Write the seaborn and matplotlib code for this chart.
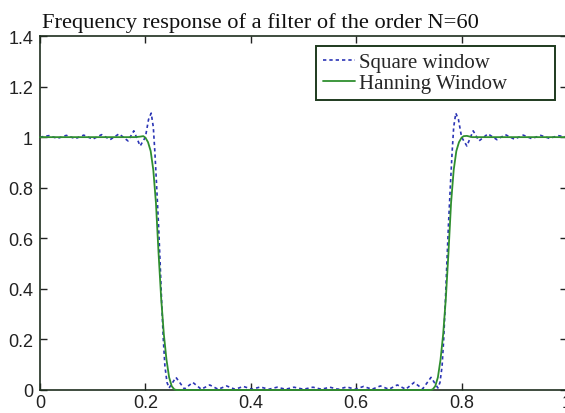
import pandas as pd
import matplotlib
matplotlib.use('Agg')
import matplotlib.pyplot as plt
import seaborn as sns
from matplotlib.ticker import FuncFormatter

# Square window (rectangular) response
square_x = [0.000, 0.017, 0.033, 0.050, 0.067, 0.083, 0.100, 0.117, 0.133, 0.150,
            0.167, 0.178, 0.190, 0.200, 0.206, 0.211, 0.215, 0.218, 0.221, 0.225,
            0.228, 0.231, 0.234, 0.237, 0.241, 0.245, 0.258, 0.274, 0.290, 0.306,
            0.322, 0.338, 0.354, 0.370, 0.386, 0.402, 0.418, 0.434, 0.450, 0.466,
            0.482, 0.500, 0.518, 0.534, 0.550, 0.566, 0.582, 0.598, 0.614, 0.630,
            0.646, 0.662, 0.678, 0.694, 0.710, 0.726, 0.742, 0.755, 0.759, 0.763,
            0.766, 0.769, 0.772, 0.775, 0.779, 0.782, 0.785, 0.789, 0.794, 0.800,
            0.810, 0.822, 0.833, 0.850, 0.867, 0.883, 0.900, 0.917, 0.933, 0.950,
            0.967, 0.983, 1.000]
square_y = [1.000, 1.006, 0.995, 1.007, 0.994, 1.008, 0.992, 1.010, 0.990, 1.013,
            0.985, 1.025, 0.965, 1.000, 1.070, 1.095, 1.040, 0.940, 0.820, 0.650,
            0.500, 0.340, 0.200, 0.095, 0.030, 0.008, 0.050, 0.004, 0.030, 0.003,
            0.020, 0.003, 0.016, 0.003, 0.014, 0.003, 0.012, 0.003, 0.011, 0.003,
            0.011, 0.003, 0.011, 0.003, 0.011, 0.003, 0.012, 0.003, 0.014, 0.003,
            0.016, 0.003, 0.020, 0.003, 0.030, 0.004, 0.050, 0.008, 0.030, 0.095,
            0.200, 0.340, 0.500, 0.650, 0.820, 0.940, 1.040, 1.095, 1.070, 1.000,
            0.965, 1.025, 0.985, 1.013, 0.990, 1.010, 0.992, 1.008, 0.994, 1.007,
            0.995, 1.006, 1.000]

# Hanning window response
hann_x = [0.000, 0.100, 0.180, 0.190, 0.196, 0.200, 0.205, 0.210, 0.215, 0.220,
          0.225, 0.230, 0.235, 0.240, 0.245, 0.250, 0.255, 0.260, 0.500, 0.740,
          0.745, 0.750, 0.755, 0.760, 0.765, 0.770, 0.775, 0.780, 0.785, 0.790,
          0.795, 0.800, 0.804, 0.810, 0.820, 0.900, 1.000]
hann_y = [1.000, 1.000, 1.000, 1.002, 1.004, 0.998, 0.980, 0.945, 0.870, 0.740,
          0.540, 0.360, 0.220, 0.120, 0.050, 0.015, 0.002, 0.000, 0.000, 0.000,
          0.002, 0.015, 0.050, 0.120, 0.220, 0.360, 0.540, 0.740, 0.870, 0.945,
          0.980, 0.998, 1.004, 1.005, 1.000, 1.000, 1.000]

title_text = 'Frequency response of a filter of the order N=60'
legend_labels = ['Square window', 'Hanning Window']

sns.set_style('ticks')
plt.rcParams['font.family'] = ['Liberation Sans', 'DejaVu Sans']

fig = plt.figure(figsize=(5.65, 4.14), dpi=100)
ax = fig.add_axes([40 / 565, 1 - 391 / 414, 527 / 565, 354 / 414])

sq = pd.DataFrame({'f': square_x, 'H': square_y})
hn = pd.DataFrame({'f': hann_x, 'H': hann_y})

sns.lineplot(data=sq, x='f', y='H', ax=ax, color='#2b35b5', linewidth=1.2,
             linestyle=(0, (2, 1.8)), label=legend_labels[0])
sns.lineplot(data=hn, x='f', y='H', ax=ax, color='#2f8f2f', linewidth=1.3,
             label=legend_labels[1], clip_on=False, zorder=5)

ax.set_xlim(0, 1)
ax.set_ylim(0, 1.4)
ax.set_xticks([0, 0.2, 0.4, 0.6, 0.8, 1])
ax.set_yticks([0, 0.2, 0.4, 0.6, 0.8, 1, 1.2, 1.4])
fmt = FuncFormatter(lambda v, p: '%g' % round(v, 2))
ax.xaxis.set_major_formatter(fmt)
ax.yaxis.set_major_formatter(fmt)
ax.set_xlabel('')
ax.set_ylabel('')
ax.tick_params(direction='in', top=True, right=True, length=5, width=1,
               labelsize=13, colors='#222222')
ax.tick_params(axis='x', pad=3)
ax.tick_params(axis='y', pad=5)
for s in ax.spines.values():
    s.set_visible(True)
    s.set_color('#1e2e1e')
    s.set_linewidth(1.2)

# legend box: wider than its text, as in the reference
leg = ax.legend(loc='upper left',
                bbox_to_anchor=(316 / 565, 1 - 101 / 414, 239 / 565, 54 / 414),
                bbox_transform=fig.transFigure, mode='expand', frameon=True,
                fancybox=False, prop={'family': 'Liberation Serif', 'size': 15},
                handlelength=1.55, handletextpad=0.2, borderpad=0.33,
                labelspacing=0.05, borderaxespad=0)
leg.get_frame().set_edgecolor('#1e3a1e')
leg.get_frame().set_linewidth(1.4)
leg.get_frame().set_alpha(1)

fig.text(42 / 565, 1 - 28 / 414, title_text, family='Liberation Serif',
         fontsize=16.2, va='baseline', ha='left', color='#111111')

fig.savefig('out.png', dpi=100)
plt.close(fig)
